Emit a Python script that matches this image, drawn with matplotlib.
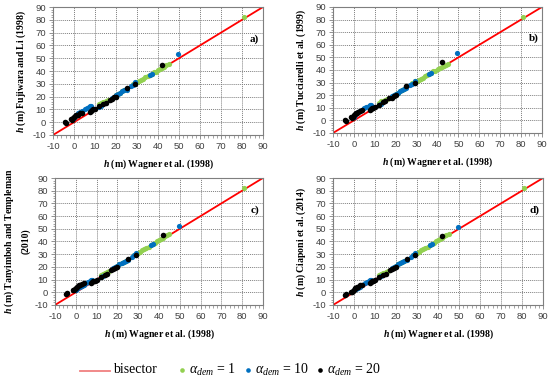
import matplotlib.pyplot as plt
import numpy as np
from matplotlib.ticker import MultipleLocator

plt.rcParams['mathtext.fontset'] = 'custom'
plt.rcParams['mathtext.rm'] = 'Liberation Serif'
plt.rcParams['mathtext.it'] = 'Liberation Serif:italic'
plt.rcParams['mathtext.bf'] = 'Liberation Serif:bold'
plt.rcParams['mathtext.bfit'] = 'Liberation Serif:bold:italic'
plt.rcParams['axes.unicode_minus'] = False

# Wagner et al. (1998) heads, per series
x_a1 = [12, 13, 14, 15, 16, 20, 21, 22, 23, 24, 28, 29, 30, 31, 32, 33, 34, 35, 36,
        37, 38, 39, 40, 41, 42, 43, 44, 45, 81]
x_a10 = [0, 1, 2, 3, 4, 5, 6, 7, 7.5, 8, 12, 13, 18, 19, 20, 21, 22, 23, 24, 25, 27,
         28, 29, 36, 37, 49.5]
x_a20 = [-4.5, -4, -1.5, -1, -0.5, 0, 0.5, 1, 1.5, 2, 3, 4, 7.5, 8, 8.5, 9, 10, 12,
         14, 15, 17, 18, 19, 20, 25, 29, 42]

# panel a) Fujiwara and Li (1998)
ya_a1 = [14, 15, 15.5, 16.5, 17, 21, 22, 23, 24, 25, 30, 31, 31.5, 32, 33, 34, 35, 36, 37,
         38, 39, 39.5, 40.5, 41.5, 42.5, 43.5, 44.5, 45.5, 82]
ya_a10 = [3, 5.5, 7, 8, 9, 10, 11, 12, 12.5, 12.5, 12, 13, 19, 20, 21, 22, 23, 24, 25, 25.5,
          28, 29, 31.5, 37, 38, 53.5]
ya_a20 = [0, -0.5, 2.5, 2, 3, 4, 5, 5.5, 5.5, 6, 7, 7.5, 8, 9, 9.5, 10, 10.5, 12.5,
          14.5, 15, 17.5, 18, 19.5, 20, 27, 29.5, 45]

# panel b) Tucciarelli et al. (1999)
yb_a1 = [14, 15, 15.5, 16.5, 17, 21, 22, 23, 24, 25, 30, 31, 31.5, 32, 33, 34, 35, 36, 37,
         38, 39, 39.5, 40.5, 41.5, 42.5, 43, 44, 45, 82]
yb_a10 = [3, 5, 6.5, 7.5, 8.5, 9.5, 10.5, 11.5, 12, 12, 12, 13, 19, 20, 21, 22, 23, 24, 25, 25.5,
          28, 29, 31.5, 37, 38, 53.5]
yb_a20 = [0, -0.5, 2.5, 2, 3, 4, 5, 5.5, 6, 6.5, 7.5, 8, 8, 9, 9.5, 10, 11, 12.5,
          14.5, 15, 17.5, 18, 19.5, 20, 27, 30, 46]

# panel c) Tanyimboh and Templeman (2010)
yc_a1 = [13.5, 14.5, 15, 16, 16.5, 21, 22, 23, 24, 25, 29.5, 30.5, 31, 32, 33, 34, 35, 36, 37,
         38, 39, 40, 41, 42, 43, 44, 45, 46, 82]
yc_a10 = [2, 3, 4, 5, 6, 7, 8, 9, 9.5, 10, 12, 13, 19, 20, 21, 22, 23, 24, 25, 25.5,
          28, 29, 31, 37, 38, 52]
yc_a20 = [-1, -0.5, 2, 1.5, 2.5, 3.5, 4.5, 5, 5.5, 6, 6.5, 7, 7.5, 8, 8.5, 9, 10, 12,
          14, 14.5, 17.5, 18, 19, 20, 26.5, 29, 45]

# panel d) Ciaponi et al. (2014)
yd_a1 = [13.5, 14.5, 15, 16, 16.5, 21, 22, 23, 24, 25, 29.5, 30.5, 31, 32, 33, 34, 35, 36, 37,
         38, 39, 40, 41, 42, 43, 44, 45, 46, 82]
yd_a10 = [1.5, 2.5, 3.5, 4.5, 5.5, 7, 8, 9, 9.5, 10, 12, 13, 19, 20, 21, 22, 23, 24, 25, 25.5,
          28, 29, 31, 37, 38, 51.5]
yd_a20 = [-2, -1.5, 0.5, 0, 1, 2, 3, 3.5, 4, 4.5, 5.5, 6, 7.5, 8, 8.5, 9, 10, 12,
          14, 14.5, 17.5, 18, 19, 20, 26, 29, 44]

panels = [
    ('a)', r'$\mathbfit{h}$ (m) Fujiwara and Li (1998)', ya_a1, ya_a10, ya_a20,
     [0.0964, 0.6438, 0.3818, 0.3377]),
    ('b)', r'$\mathbfit{h}$ (m) Tucciarelli et al. (1999)', yb_a1, yb_a10, yb_a20,
     [0.6055, 0.6491, 0.38, 0.3325]),
    ('c)', '$\\mathbfit{h}$ (m) Tanyimboh and Templeman\n(2010)', yc_a1, yc_a10, yc_a20,
     [0.1, 0.1953, 0.378, 0.335]),
    ('d)', r'$\mathbfit{h}$ (m) Ciaponi et al. (2014)', yd_a1, yd_a10, yd_a20,
     [0.6055, 0.1953, 0.3818, 0.335]),
]

green = '#92D050'
blue = '#0070C0'
serif = 'Liberation Serif'

fig = plt.figure(figsize=(5.5, 3.79), dpi=100)

for tag, ylab, y1, y10, y20, rect in panels:
    ax = fig.add_axes(rect)
    ax.plot([-10, 90], [-10, 90], color='#FF0000', lw=1.3, zorder=2)
    ax.scatter(x_a1, y1, s=14, color=green, zorder=3, linewidths=0)
    ax.scatter(x_a10, y10, s=14, color=blue, zorder=4, linewidths=0)
    ax.scatter(x_a20, y20, s=16, color='black', zorder=5, linewidths=0)
    ax.set_xlim(-10, 90)
    ax.set_ylim(-10, 90)
    ax.xaxis.set_major_locator(MultipleLocator(10))
    ax.yaxis.set_major_locator(MultipleLocator(10))
    ax.xaxis.set_minor_locator(MultipleLocator(2))
    ax.yaxis.set_minor_locator(MultipleLocator(2))
    ax.grid(True, which='major', color='#7f7f7f', linestyle=(0, (1, 1)), lw=0.7)
    ax.tick_params(which='major', length=3, width=0.6, color='#7f7f7f',
                   labelsize=6.8, labelcolor='#404040', pad=2)
    ax.tick_params(which='minor', length=1.8, width=0.5, color='#7f7f7f')
    for lab in ax.get_xticklabels() + ax.get_yticklabels():
        lab.set_fontfamily('Liberation Sans')
    for sp in ax.spines.values():
        sp.set_color('#7f7f7f')
        sp.set_linewidth(0.8)
    ax.set_xlabel(r'$\mathbfit{h}$ (m) Wagner et al. (1998)', fontsize=7, fontweight='bold',
                  family=serif, labelpad=5)
    ax.set_ylabel(ylab, fontsize=7, fontweight='bold', family=serif, labelpad=3,
                  linespacing=1.6)
    ax.text(86, 65, tag, fontsize=8, fontweight='bold', family=serif, ha='center', va='center')

# legend
lax = fig.add_axes([0, 0, 1, 0.06])
lax.axis('off')
lax.set_xlim(0, 550)
lax.set_ylim(0, 22)
lax.plot([80, 110], [8, 8], color='#f08080', lw=1.3)
lax.text(113, 9, 'bisector', fontsize=10, family=serif, va='center')
leg_items = [(182, green, '1'), (248, blue, '10'), (320, 'black', '20')]
for xp, col, val in leg_items:
    lax.scatter([xp], [9], s=11, color=col, linewidths=0)
    lax.text(xp + 7, 9, r'$\alpha_{dem}$ = ' + val, fontsize=10, family=serif, va='center')

fig.savefig('out.png', dpi=100)
